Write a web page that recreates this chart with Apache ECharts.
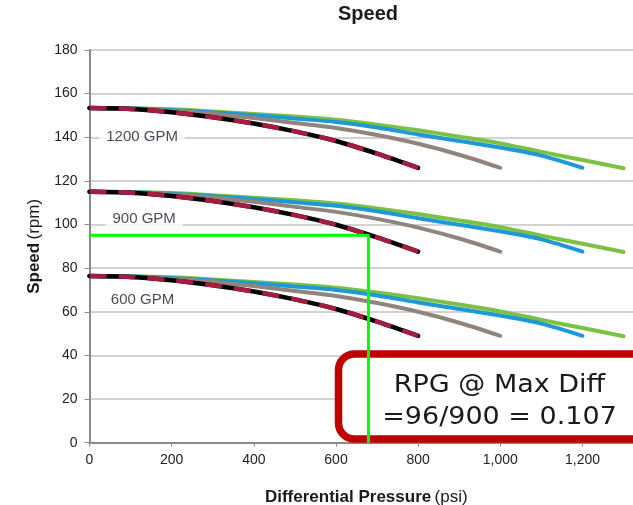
<!DOCTYPE html>
<html>
<head>
<meta charset="utf-8">
<script src="https://cdn.jsdelivr.net/npm/echarts@6/dist/echarts.min.js"></script>
<style>
html,body{margin:0;padding:0;background:#fff;overflow:hidden;}
#chart{width:633px;height:505px;}
</style>
</head>
<body>
<div id="chart"></div>
<script>
// ---- data ----
const pressRed   = [0,100,200,300,400,500,600,700,800];
const pressGray  = [0,100,200,300,400,500,600,700,800,900,1000];
const pressBlue  = [0,100,200,300,400,500,600,700,800,900,1000,1100,1200];
const pressGreen = [0,100,200,300,400,500,600,700,800,900,1000,1100,1200,1300];

const red1200   = [153.4,153.0,151.5,149.2,146.3,142.7,138.3,132.5,126.0];
const gray1200  = [153.4,153.1,152.2,150.8,148.8,146.5,144.2,141.0,137.0,132.0,126.0];
const blue1200  = [153.4,153.2,152.5,151.4,150.1,148.6,147.0,144.5,141.3,138.3,135.3,131.6,126.0];
const green1200 = [153.4,153.3,152.8,151.8,150.7,149.5,148.0,145.8,143.2,140.3,137.2,133.3,129.6,125.8];

const red900   = [115.0,114.6,113.1,110.8,107.9,104.3,99.9,94.1,87.6];
const gray900  = [115.0,114.7,113.8,112.4,110.4,108.1,105.8,102.6,98.6,93.6,87.6];
const blue900  = [115.0,114.8,114.1,113.0,111.7,110.2,108.6,106.1,102.9,99.9,96.9,93.2,87.6];
const green900 = [115.0,114.9,114.4,113.4,112.3,111.1,109.6,107.4,104.8,101.9,98.8,94.9,91.2,87.4];

const red600   = [76.4,76.0,74.5,72.2,69.3,65.7,61.3,55.5,49.0];
const gray600  = [76.4,76.1,75.2,73.8,71.8,69.5,67.2,64.0,60.0,55.0,49.0];
const blue600  = [76.4,76.2,75.5,74.4,73.1,71.6,70.0,67.5,64.3,61.3,58.3,54.6,49.0];
const green600 = [76.4,76.3,75.8,74.8,73.7,72.5,71.0,68.8,66.2,63.3,60.2,56.3,52.6,48.8];

const groupLabels = ['1200 GPM','900 GPM','600 GPM'];
const groupLabelPress = [128,133,129];
const groupLabelSpeed = [140.3,102.8,65.7];

const targetPress = 679;
const targetSpeed = 95.1;

const xTicks = {min:0, max:1323, interval:200};
const yTicks = {min:0, max:180, interval:20};

// ---- build chart ----
const FONT = 'Liberation Sans';
const C = {green:'#7cc242', blue:'#1e98d6', gray:'#8f857c', red:'#a51c40', black:'#000'};

function pairs(xs, ys){ return xs.map((x,i)=>[x, ys[i]]); }
function curve(name, xs, ys, color, width, z, extra){
  return Object.assign({
    name, type:'line', data:pairs(xs,ys), smooth:0.3, symbol:'none', z,
    lineStyle:{color, width, cap:'round', join:'round'}, silent:true, animation:false
  }, extra||{});
}

const series = [];
const groups = [
  [red1200,gray1200,blue1200,green1200],
  [red900,gray900,blue900,green900],
  [red600,gray600,blue600,green600]
];
groups.forEach((g,gi)=>{
  series.push(curve('green'+gi, pressGreen, g[3], C.green, 4, 2));
  series.push(curve('blue'+gi, pressBlue, g[2], C.blue, 4, 3));
  series.push(curve('gray'+gi, pressGray, g[1], C.gray, 4, 4));
  series.push(curve('black'+gi, pressRed, g[0], C.black, 4.5, 5));
  series.push(curve('red'+gi, pressRed, g[0], C.red, 4.5, 6,
    {lineStyle:{color:C.red, width:4.5, type:[17,12], cap:'butt', join:'round'}}));
});

series.push({
  name:'target', type:'line', symbol:'none', z:8, silent:true, animation:false,
  data:[[0,targetSpeed],[targetPress,targetSpeed],[targetPress,0]],
  lineStyle:{color:'#00ff00', width:3}
});

series.push({
  name:'labels', type:'scatter', symbolSize:0, z:7, silent:true, animation:false,
  data: groupLabels.map((t,i)=>[groupLabelPress[i], groupLabelSpeed[i], t]),
  label:{show:true, position:'inside', formatter:p=>p.value[2],
    fontFamily:FONT, fontSize:15, color:'#1c1c2a', backgroundColor:'#fff', padding:[4,7]}
});

const chart = echarts.init(document.getElementById('chart'), null, {renderer:'canvas', width:633, height:505});
chart.setOption({
  animation:false,
  backgroundColor:'#fff',
  title:{text:'Speed', left:368, top:4, padding:0, textAlign:'center',
    textStyle:{fontFamily:FONT, fontSize:20, fontWeight:'bold', color:'#1a1a1a'}},
  grid:{left:89.5, right:0, top:50, bottom:62.3, containLabel:false, outerBoundsMode:'none'},
  xAxis:{type:'value', min:xTicks.min, max:xTicks.max, interval:xTicks.interval,
    name:'{b|Differential Pressure} {n|(psi)}', nameLocation:'middle', nameGap:46,
    nameTextStyle:{padding:[0,0,0,10], rich:{
      b:{fontFamily:FONT, fontSize:17, fontWeight:'bold', color:'#1a1a1a'},
      n:{fontFamily:FONT, fontSize:17, color:'#1a1a1a'}}},
    axisLine:{show:true, lineStyle:{color:'#8a8a8a', width:2}},
    axisTick:{show:true, length:4, lineStyle:{color:'#8a8a8a', width:1}},
    axisLabel:{fontFamily:FONT, fontSize:14, color:'#222', margin:10, showMaxLabel:false},
    splitLine:{show:false}},
  yAxis:{type:'value', min:yTicks.min, max:yTicks.max, interval:yTicks.interval,
    name:'{b|Speed} {n|(rpm)}', nameLocation:'middle', nameGap:46,
    nameTextStyle:{rich:{
      b:{fontFamily:FONT, fontSize:17, fontWeight:'bold', color:'#1a1a1a'},
      n:{fontFamily:FONT, fontSize:17, color:'#1a1a1a'}}},
    axisLine:{show:true, lineStyle:{color:'#8a8a8a', width:2}},
    axisTick:{show:true, length:5, lineStyle:{color:'#8a8a8a', width:1}},
    axisLabel:{fontFamily:FONT, fontSize:14, color:'#222', margin:12},
    splitLine:{show:true, lineStyle:{color:'#c4c4c4', width:1.5}}},
  graphic:[
    {type:'rect', z:3, shape:{x:338.5, y:354, width:330, height:85, r:16},
      style:{fill:'#fff', stroke:'#c00000', lineWidth:7.5}},
    {type:'text', z:4, x:499.5, y:397.5, scaleX:1.08, originX:0,
      style:{text:'RPG @ Max Diff', font:'25px "DejaVu Sans"', fill:'#1a1a1a',
        textAlign:'center', textVerticalAlign:'bottom'}},
    {type:'text', z:4, x:499.5, y:430, scaleX:1.08, originX:0,
      style:{text:'=96/900 = 0.107', font:'25px "DejaVu Sans"', fill:'#1a1a1a',
        textAlign:'center', textVerticalAlign:'bottom'}}
  ],
  series
});
</script>
</body>
</html>
